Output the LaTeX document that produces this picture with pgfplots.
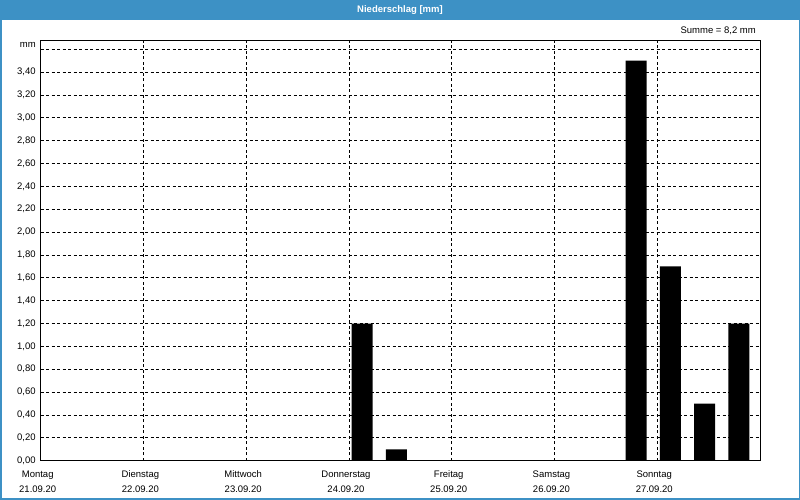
\documentclass[border=0pt]{standalone}
\usepackage{pgfplots}
\pgfplotsset{compat=1.18}
\usepackage{fontspec}
\setmainfont{Liberation Sans}
\definecolor{barblue}{RGB}{61,145,197}
\begin{document}
\begin{tikzpicture}[x=1pt,y=1pt]
\useasboundingbox (0,0) rectangle (800,500);
\fill[white] (0,0) rectangle (800,500);
\fill[barblue] (0,480) rectangle (800,500);
\draw[barblue, line width=1.5pt] (0.75,0.75) rectangle (799.25,499.25);
\node[text=white, font=\fontsize{9.5}{11}\selectfont\bfseries] at (400,490) {Niederschlag [mm]};
\node[anchor=east, font=\fontsize{9.5}{11}\selectfont, inner sep=0pt] at (756,469) {Summe = 8,2 mm};
\begin{axis}[
  at={(40.7pt,39.3pt)}, anchor=south west,
  scale only axis, width=719.3pt, height=420.7pt,
  xmin=0, xmax=7, ymin=0, ymax=3.68,
  axis line style={black, line width=0.9pt},
  tick style={draw=none},
  grid=major,
  major grid style={black, line width=0.7pt, dash pattern=on 3pt off 2.5pt},
  xtick={0,1,2,3,4,5,6},
  xticklabels={{Montag\\21.09.20},{Dienstag\\22.09.20},{Mittwoch\\23.09.20},{Donnerstag\\24.09.20},{Freitag\\25.09.20},{Samstag\\26.09.20},{Sonntag\\27.09.20}},
  xticklabel style={align=center, font=\fontsize{9.5}{15.3}\selectfont, xshift=-3pt, yshift=-2pt},
  ytick={0,0.2,...,3.41},
  yticklabel style={font=\fontsize{9.5}{11}\selectfont, xshift=-1.5pt,
    /pgf/number format/fixed, /pgf/number format/fixed zerofill,
    /pgf/number format/precision=2, /pgf/number format/use comma},
  extra y ticks={3.6},
  extra y tick labels={mm},
  extra y tick style={grid=major, yticklabel style={yshift=4pt}},
  /pgf/number format/assume math mode=true,
  ybar, bar width=0.204, bar shift=0pt,
  clip=false,
]
\addplot[fill=black, draw=none] coordinates {
  (3.128,1.2) (3.461,0.1) (5.795,3.5) (6.128,1.7) (6.461,0.5) (6.795,1.2)
};
\end{axis}
\end{tikzpicture}
\end{document}
